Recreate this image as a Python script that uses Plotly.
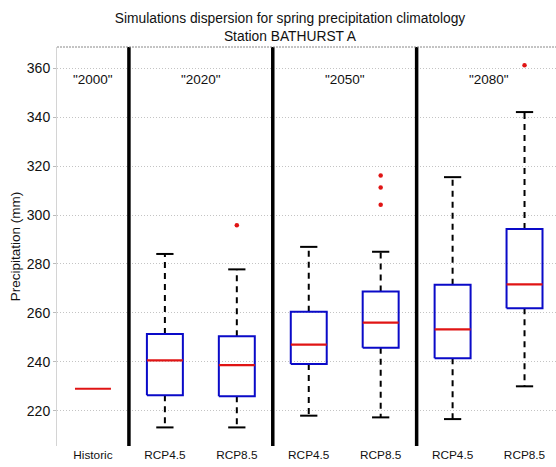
import plotly.graph_objects as go

# ---- data ----
categories = ["Historic", "RCP4.5", "RCP8.5", "RCP4.5", "RCP8.5", "RCP4.5", "RCP8.5"]
periods = ['"2000"', '"2020"', '"2050"', '"2080"']
period_centers = [1, 2.5, 4.5, 6.5]
separators = [1.5, 3.5, 5.5]
medians = [229.0, 240.6, 238.7, 247.0, 256.0, 253.3, 271.7]
q1 = [None, 226.3, 225.9, 239.1, 245.8, 241.5, 261.9]
q3 = [None, 251.4, 250.5, 260.5, 268.8, 271.5, 294.3]
whisker_low = [None, 213.2, 213.2, 218.0, 217.3, 216.6, 230.0]
whisker_high = [None, 284.1, 277.8, 287.0, 285.0, 315.5, 342.1]
outliers = [[], [], [295.8], [], [316.2, 311.3, 304.2], [], [361.2]]
y_ticks = [220, 240, 260, 280, 300, 320, 340, 360]

FONT = "Liberation Sans, Arial, sans-serif"
BLUE = "#0a0ac8"
RED = "#e01414"
HALF = 0.25   # box half width (x units)
CAP = 0.12    # whisker cap half width

xs = list(range(1, len(categories) + 1))

box_x, box_y = [], []
med_x, med_y = [], []
wh_x, wh_y = [], []
cap_x, cap_y = [], []
out_x, out_y = [], []
for i, x in enumerate(xs):
    med_x += [x - HALF, x + HALF, None]
    med_y += [medians[i], medians[i], None]
    if q1[i] is not None:
        box_x += [x - HALF, x + HALF, x + HALF, x - HALF, x - HALF, None]
        box_y += [q1[i], q1[i], q3[i], q3[i], q1[i], None]
        wh_x += [x, x, None, x, x, None]
        wh_y += [q3[i], whisker_high[i], None, q1[i], whisker_low[i], None]
        cap_x += [x - CAP, x + CAP, None, x - CAP, x + CAP, None]
        cap_y += [whisker_high[i], whisker_high[i], None, whisker_low[i], whisker_low[i], None]
    for o in outliers[i]:
        out_x.append(x)
        out_y.append(o)

fig = go.Figure()
fig.add_trace(go.Scatter(x=wh_x, y=wh_y, mode="lines",
                         line=dict(color="black", width=2, dash="6px,5px"),
                         hoverinfo="skip", showlegend=False))
fig.add_trace(go.Scatter(x=cap_x, y=cap_y, mode="lines",
                         line=dict(color="black", width=2),
                         hoverinfo="skip", showlegend=False))
fig.add_trace(go.Scatter(x=box_x, y=box_y, mode="lines",
                         line=dict(color=BLUE, width=2),
                         hoverinfo="skip", showlegend=False))
fig.add_trace(go.Scatter(x=med_x, y=med_y, mode="lines",
                         line=dict(color=RED, width=2.2),
                         hoverinfo="skip", showlegend=False))
fig.add_trace(go.Scatter(x=out_x, y=out_y, mode="markers",
                         marker=dict(color=RED, size=4.5),
                         hoverinfo="skip", showlegend=False))

for s in separators:
    fig.add_shape(type="line", xref="x", yref="paper", x0=s, x1=s, y0=0, y1=1,
                  line=dict(color="black", width=3.5))

for p, c in zip(periods, period_centers):
    fig.add_annotation(x=c, y=355.3, xref="x", yref="y", text=p, showarrow=False,
                       font=dict(family=FONT, size=13.5, color="#111"))

# top frame line
fig.add_shape(type="line", xref="paper", yref="paper", x0=0, x1=1, y0=1, y1=1,
              line=dict(color="#888", width=1, dash="2px,1px"))

fig.update_layout(
    width=556, height=467,
    margin=dict(l=57, r=0, t=47, b=21),
    paper_bgcolor="white", plot_bgcolor="white",
    font=dict(family=FONT, color="#111"),
    title=dict(text="Simulations dispersion for spring precipitation climatology<br>Station BATHURST A",
               xref="container", x=290 / 556, xanchor="center",
               yref="container", y=1 - 23 / 467, yanchor="middle",
               font=dict(family=FONT, size=13.8, color="#111")),
    xaxis=dict(range=[0.5, 7.4375], tickvals=xs, ticktext=categories,
               showgrid=False, zeroline=False, showline=False,
               tickfont=dict(family=FONT, size=11.8, color="#111"), ticks=""),
    yaxis=dict(range=[205.6, 368.7], tickvals=y_ticks,
               showgrid=True, gridcolor="#c4c4c4", griddash="1px,2px", gridwidth=1,
               zeroline=False, showline=True, linecolor="#d4d4d4", linewidth=1,
               ticks="outside", ticklen=3, tickcolor="#bbbbbb",
               tickfont=dict(family=FONT, size=14, color="#111"),
               title=dict(text="Precipitation (mm)", standoff=3,
                          font=dict(family=FONT, size=13.5, color="#111"))),
)

fig.write_html("out.html")
